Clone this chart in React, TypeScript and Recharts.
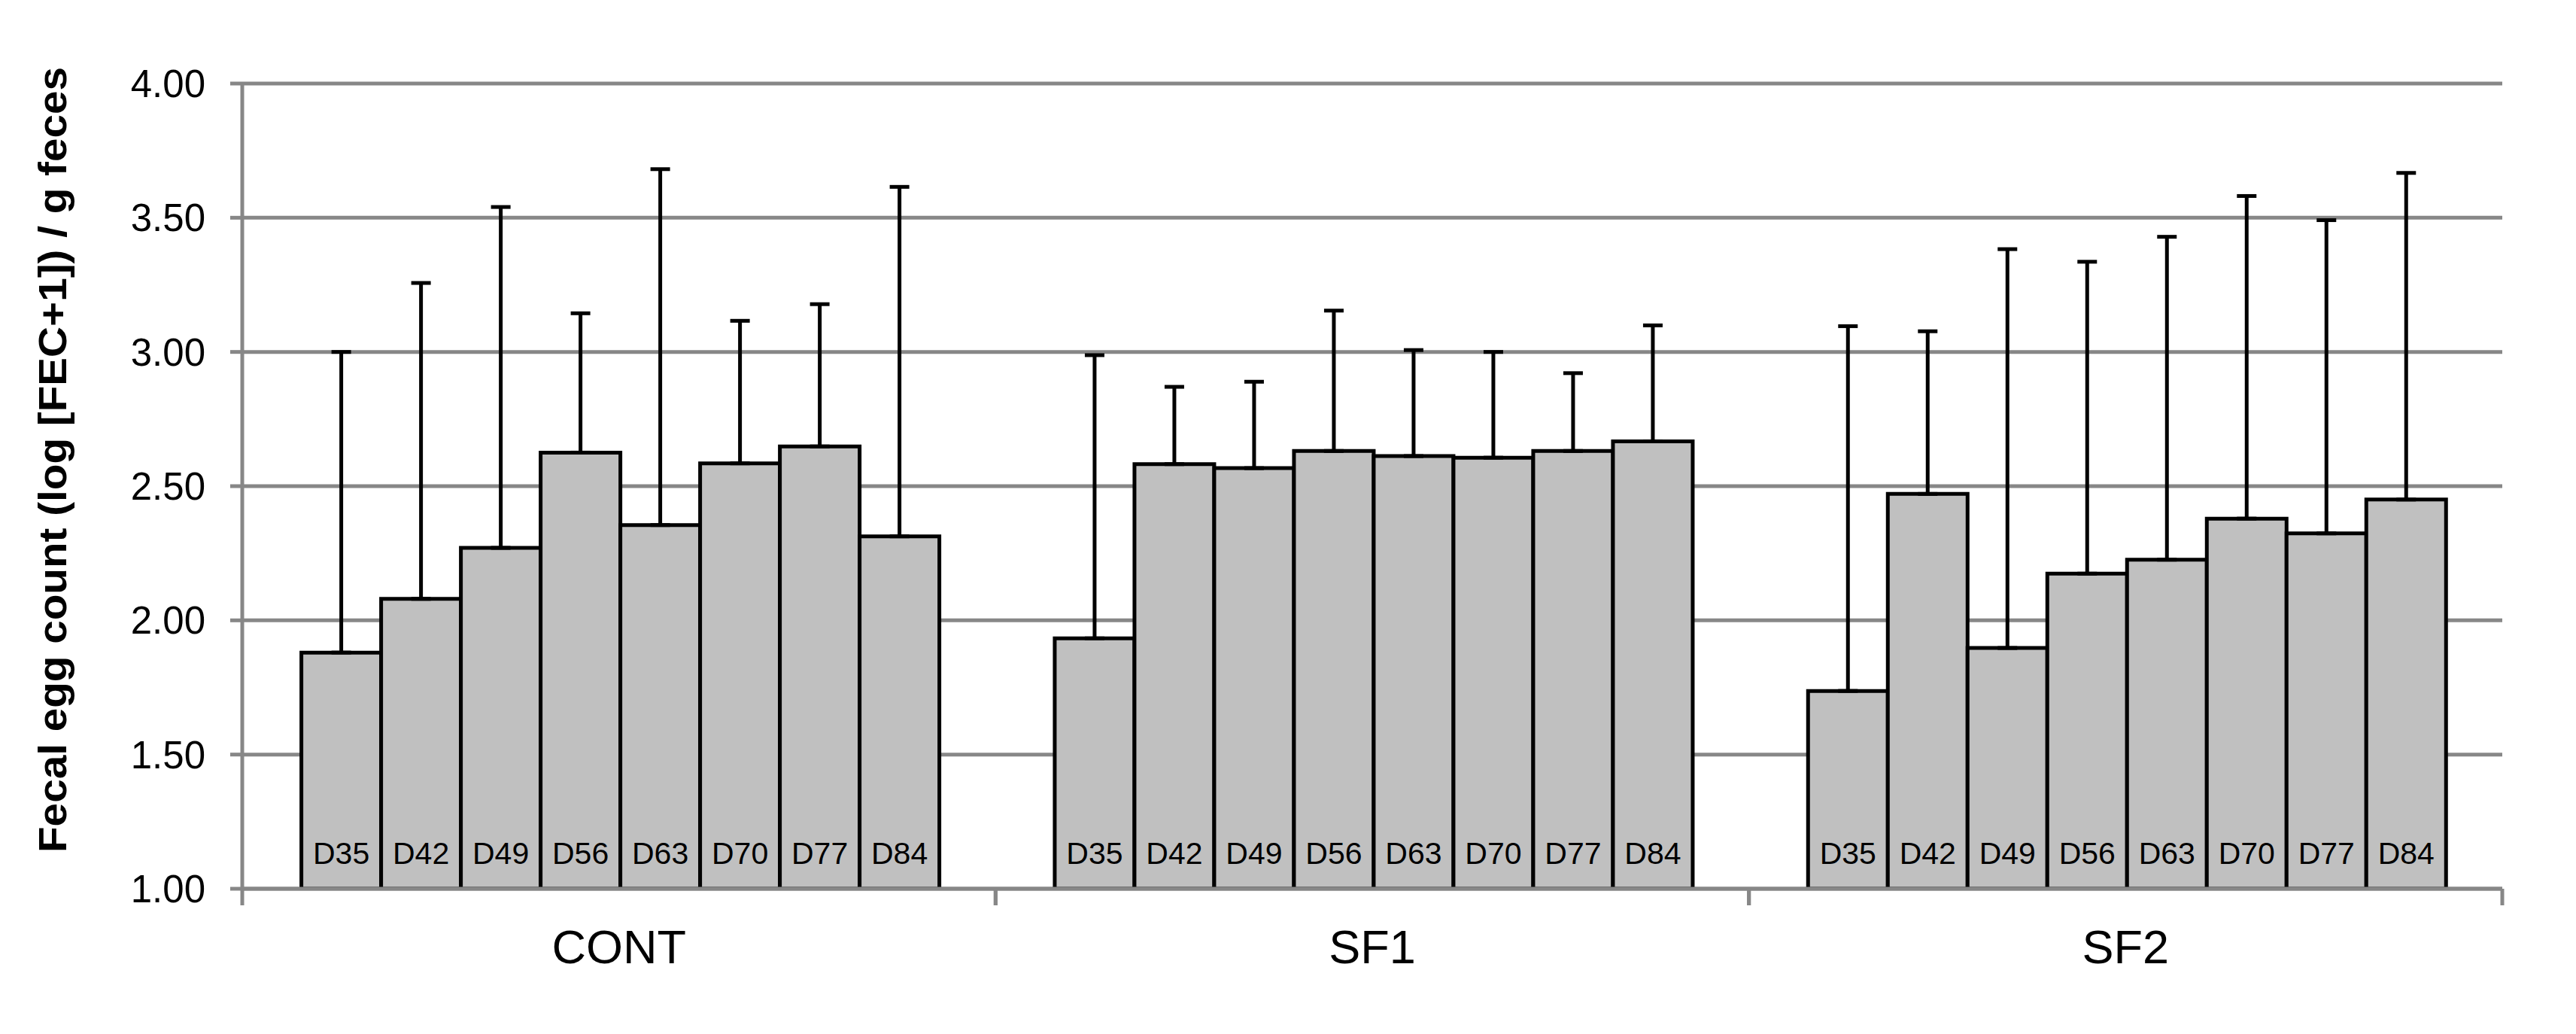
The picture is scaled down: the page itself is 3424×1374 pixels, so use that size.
import React from "react";
import { Bar, BarChart, CartesianGrid, ErrorBar, Label, LabelList, XAxis, YAxis } from "recharts";

const groups = ["CONT", "SF1", "SF2"];
const days = ["D35", "D42", "D49", "D56", "D63", "D70", "D77", "D84"];

// mean and upper error (SD) for each group
const contMean = [1.88, 2.08, 2.27, 2.625, 2.355, 2.585, 2.648, 2.313];
const contSd = [1.12, 1.177, 1.27, 0.519, 1.326, 0.531, 0.53, 1.302];
const sf1Mean = [1.933, 2.582, 2.567, 2.631, 2.612, 2.606, 2.631, 2.667];
const sf1Sd = [1.055, 0.288, 0.322, 0.523, 0.395, 0.394, 0.29, 0.432];
const sf2Mean = [1.737, 2.471, 1.897, 2.174, 2.226, 2.379, 2.324, 2.45];
const sf2Sd = [1.359, 0.606, 1.486, 1.162, 1.203, 1.202, 1.167, 1.217];

const yTicks = [1, 1.5, 2, 2.5, 3, 3.5, 4];

const means = [contMean, sf1Mean, sf2Mean];
const sds = [contSd, sf1Sd, sf2Sd];

const data = groups.map((g, gi) => {
  const row: Record<string, any> = { group: g };
  days.forEach((d, di) => {
    row[d] = means[gi][di];
    row[d + "_err"] = [0, sds[gi][di]];
  });
  return row;
});

const FONT = "'Liberation Sans', Arial, sans-serif";
const GRID = "#878787";

function GroupTick(props: any) {
  const { x, y, payload, width } = props;
  const half = payload.offset ? payload.offset : width / (2 * groups.length);
  return (
    <g>
      <line x1={x - half} x2={x - half} y1={y} y2={y + 22} stroke={GRID} strokeWidth={5} />
      <line x1={x + half} x2={x + half} y1={y} y2={y + 22} stroke={GRID} strokeWidth={5} />
      <text x={x} y={y + 99} textAnchor="middle" fontSize={63} fontFamily={FONT} fill="#000">
        {payload.value}
      </text>
    </g>
  );
}

const dayLabel = (day: string) => (p: any) => (
  <text
    x={p.x + p.width / 2}
    y={p.y + p.height - 33}
    textAnchor="middle"
    fontSize={41}
    fontFamily={FONT}
    fill="#000"
  >
    {day}
  </text>
);

function YTitle(props: any) {
  const vb = props.viewBox;
  const cx = vb.x + 62;
  const cy = vb.y + vb.height / 2 - 35;
  return (
    <text
      x={cx}
      y={cy}
      transform={`rotate(-90 ${cx} ${cy})`}
      textAnchor="middle"
      dominantBaseline="central"
      fontSize={51}
      fontWeight="bold"
      fontFamily={FONT}
      textLength={1044}
      lengthAdjust="spacingAndGlyphs"
      fill="#000"
    >
      Fecal egg count (log [FEC+1]) / g feces
    </text>
  );
}

export default function App() {
  return (
    <div style={{ width: 3400, height: 1340 }}>
      <BarChart
        width={3400}
        height={1340}
        data={data}
        margin={{ top: 103, right: 82, bottom: 47, left: 0 }}
        barCategoryGap="7.85%"
        barGap={0}
      >
        <CartesianGrid vertical={false} stroke={GRID} strokeWidth={5} />
        <XAxis
          dataKey="group"
          interval={0}
          height={120}
          tickLine={false}
          tickSize={0}
          tickMargin={0}
          axisLine={{ stroke: GRID, strokeWidth: 5 }}
          tick={<GroupTick />}
        />
        <YAxis
          type="number"
          domain={[1, 4]}
          ticks={yTicks}
          allowDataOverflow
          width={314}
          tickSize={16}
          tickMargin={33}
          tickFormatter={(v) => Number(v).toFixed(2)}
          axisLine={{ stroke: GRID, strokeWidth: 5 }}
          tickLine={{ stroke: GRID, strokeWidth: 5 }}
          tick={{ fill: "#000", fontSize: 51, fontFamily: FONT }}
        >
          <Label content={<YTitle />} />
        </YAxis>
        {days.map((d) => (
          <Bar key={d} dataKey={d} fill="#C0C0C0" stroke="#000" strokeWidth={5} isAnimationActive={false}>
            <ErrorBar dataKey={d + "_err"} direction="y" width={13} stroke="#000" strokeWidth={5} />
            <LabelList dataKey={d} content={dayLabel(d)} />
          </Bar>
        ))}
      </BarChart>
    </div>
  );
}
